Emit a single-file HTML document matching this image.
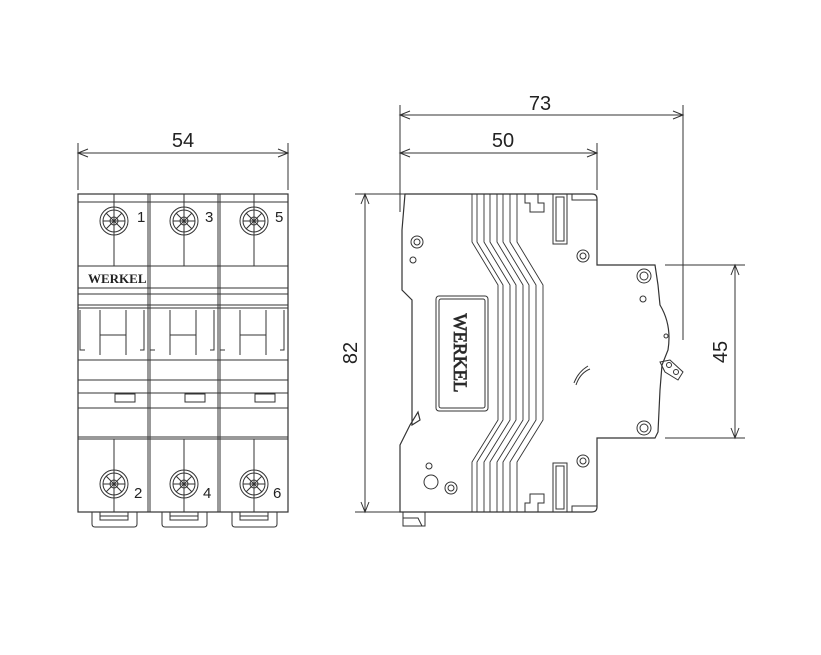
<!DOCTYPE html>
<html><head><style>body{margin:0;background:#fff}svg{display:block}text{font-family:"Liberation Sans",sans-serif;fill:#222}</style></head><body>
<svg width="821" height="655" viewBox="0 0 821 655" fill="none" stroke="#333" stroke-width="1.2">
<g stroke-width="1">
<line x1="78" y1="143" x2="78" y2="190"/><line x1="288" y1="143" x2="288" y2="190"/>
<line x1="78" y1="153" x2="288" y2="153"/>
<path d="M88 149 L78 153 L88 157 M278 149 L288 153 L278 157"/>
<line x1="400" y1="105" x2="400" y2="212"/><line x1="683" y1="105" x2="683" y2="340"/><line x1="597" y1="143" x2="597" y2="190"/>
<line x1="400" y1="115" x2="683" y2="115"/><line x1="400" y1="153" x2="597" y2="153"/>
<path d="M410 111 L400 115 L410 119 M673 111 L683 115 L673 119 M410 149 L400 153 L410 157 M587 149 L597 153 L587 157"/>
<line x1="355" y1="194" x2="405" y2="194"/><line x1="355" y1="512" x2="400" y2="512"/>
<line x1="365" y1="194" x2="365" y2="512"/>
<path d="M361 204 L365 194 L369 204 M361 502 L365 512 L369 502"/>
<line x1="665" y1="265" x2="745" y2="265"/><line x1="665" y1="438" x2="745" y2="438"/>
<line x1="735" y1="265" x2="735" y2="438"/>
<path d="M731 275 L735 265 L739 275 M731 428 L735 438 L739 428"/>
</g>
<text x="183" y="147" font-size="20" text-anchor="middle" stroke="none">54</text>
<text x="540" y="110" font-size="20" text-anchor="middle" stroke="none">73</text>
<text x="503" y="147" font-size="20" text-anchor="middle" stroke="none">50</text>
<text transform="translate(357,353) rotate(-90)" font-size="20" text-anchor="middle" stroke="none">82</text>
<text transform="translate(727,352) rotate(-90)" font-size="20" text-anchor="middle" stroke="none">45</text>
<rect x="78" y="194" width="210" height="318"/>
<g stroke-width="1">
<line x1="78" y1="202" x2="288" y2="202"/>
<line x1="148" y1="194" x2="148" y2="512"/><line x1="150" y1="194" x2="150" y2="512"/>
<line x1="218" y1="194" x2="218" y2="512"/><line x1="220" y1="194" x2="220" y2="512"/>
<line x1="78" y1="266" x2="288" y2="266"/><line x1="78" y1="288" x2="288" y2="288"/>
<line x1="78" y1="294" x2="288" y2="294"/><line x1="78" y1="305" x2="288" y2="305"/>
<line x1="78" y1="308" x2="288" y2="308"/>
<line x1="78" y1="360" x2="288" y2="360"/><line x1="78" y1="380" x2="288" y2="380"/>
<line x1="78" y1="393" x2="288" y2="393"/><line x1="78" y1="408" x2="288" y2="408"/>
<line x1="78" y1="437" x2="288" y2="437"/><line x1="78" y1="439" x2="288" y2="439"/>
</g>
<g stroke-width="1">
<g id="p">
<line x1="114" y1="194" x2="114" y2="266"/>
<circle cx="114" cy="221" r="14"/><circle cx="114" cy="221" r="11"/><circle cx="114" cy="221" r="4"/>
<path d="M106 213 L122 229 M122 213 L106 229 M114 210 V232 M103 221 H125"/>
<path d="M80 310 V350 H85 M100 310 V355 M126 310 V355 M144 310 V350 H140 M100 335 H126"/>
<rect x="115" y="394" width="20" height="8"/>
<line x1="114" y1="439" x2="114" y2="512"/>
<circle cx="114" cy="484" r="14"/><circle cx="114" cy="484" r="11"/><circle cx="114" cy="484" r="4"/>
<path d="M106 476 L122 492 M122 476 L106 492 M114 473 V495 M103 484 H125"/>
<path d="M92 512 V524 Q92 527 95 527 H134 Q137 527 137 524 V512 M100 512 V520 H128 V512 M100 516 H128"/>
</g>
<use href="#p" x="70"/><use href="#p" x="140"/>
</g>
<text x="88" y="283" font-size="13" font-weight="bold" style="font-family:'Liberation Serif',serif" stroke="none">WERKEL</text>
<text x="137" y="222" font-size="15" stroke="none">1</text><text x="205" y="222" font-size="15" stroke="none">3</text><text x="275" y="222" font-size="15" stroke="none">5</text>
<text x="134" y="498" font-size="15" stroke="none">2</text><text x="203" y="498" font-size="15" stroke="none">4</text><text x="273" y="498" font-size="15" stroke="none">6</text>
<path d="M405 194 H592 Q597 194 597 199 V265 H655 L658 285 L660 305 Q672 325 668 350 L662 365 L660 390 L658 432 L655 438 H597 V507 Q597 512 592 512 H400 V445 L410 425 L418 412 L420 420 L412 425 V300 L402 290 V230 Z"/>
<g stroke-width="1">
<rect x="403" y="512" width="22" height="14"/>
<path d="M403 518 H418 L422 526"/>
<rect x="436" y="296" width="52" height="115" rx="3"/><rect x="439" y="299" width="46" height="109" rx="2"/>
<circle cx="417" cy="242" r="6"/><circle cx="417" cy="242" r="3"/><circle cx="413" cy="260" r="3"/>
<circle cx="583" cy="256" r="6"/><circle cx="583" cy="256" r="3"/>
<circle cx="583" cy="461" r="6"/><circle cx="583" cy="461" r="3"/>
<circle cx="429" cy="466" r="3"/><circle cx="431" cy="482" r="7"/><circle cx="451" cy="488" r="6"/><circle cx="451" cy="488" r="3"/>
<circle cx="644" cy="276" r="7"/><circle cx="644" cy="276" r="4"/><circle cx="643" cy="299" r="3"/><circle cx="666" cy="336" r="2"/>
<circle cx="644" cy="428" r="7"/><circle cx="644" cy="428" r="4"/>
<path d="M660 362 L670 360 L683 372 L678 380 L665 372 Z"/><circle cx="669" cy="365" r="2.5"/><circle cx="676" cy="372" r="2.5"/>
<path d="M576 385 Q580 373 590 369 M574 383 Q578 372 588 366"/>
<rect x="553" y="194" width="14" height="50"/><rect x="556" y="197" width="8" height="44"/>
<rect x="553" y="463" width="14" height="49"/><rect x="556" y="466" width="8" height="43"/>
<path d="M525 194 V203 H530 V212 H544 V203 H538 V194"/>
<path d="M525 512 V503 H530 V494 H544 V503 H538 V512"/>
<path d="M572 194 V200 H597"/><path d="M572 512 V506 H597"/>
</g>
<g stroke-width="0.9">
<path d="M472 194 V242 L498 285 V420 L472 462 V512"/>
<path d="M477 194 V242 L503 285 V420 L477 462 V512"/>
<path d="M484 194 V242 L510 285 V420 L484 462 V512"/>
<path d="M490 194 V242 L516 285 V420 L490 462 V512"/>
<path d="M497 194 V242 L523 285 V420 L497 462 V512"/>
<path d="M503 194 V242 L529 285 V420 L503 462 V512"/>
<path d="M510 194 V242 L536 285 V420 L510 462 V512"/>
<path d="M517 194 V242 L543 285 V420 L517 462 V512"/>
</g>
<text transform="translate(454,353) rotate(90)" font-size="19" text-anchor="middle" style="font-family:'Liberation Serif',serif" stroke="#333" stroke-width="0.8" fill="none">WERKEL</text>
</svg>
</body></html>
